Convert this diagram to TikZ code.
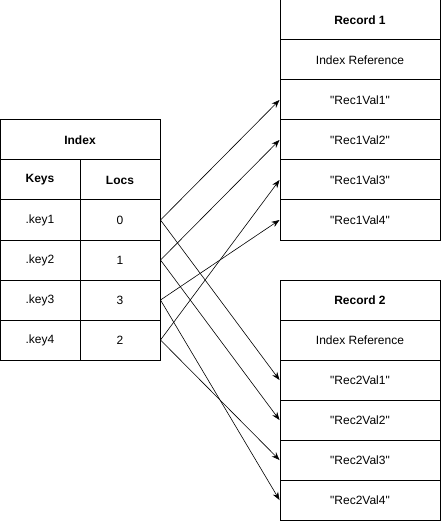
\documentclass[tikz,border=0pt]{standalone}
\usepackage{fontspec}
\setmainfont{Liberation Sans}[Ligatures=TeXOff]
\usepackage{tikz}
\usetikzlibrary{arrows.meta}

\begin{document}
\begin{tikzpicture}[x=1pt, y=-1pt,
  cell/.style={draw, line width=1pt, inner sep=0pt, minimum height=40pt, font=\fontsize{12}{14}\selectfont},
  half/.style={cell, minimum width=80pt},
  full/.style={cell, minimum width=160pt},
  ptr/.style={-{Stealth[length=8pt,width=6pt]}, line width=0.6pt}]
\useasboundingbox (0,0) rectangle (441,521);
% index table
\node[full] (idx) at (80,140) {\textbf{Index}};
\node[half] (hkeys) at (40,180) {\textbf{Keys}};
\node[half] (hlocs) at (120,180) {\textbf{Locs}};
\node[half] (k1) at (40,220) {.key1};
\node[half] (l1) at (120,220) {0};
\node[half] (k2) at (40,260) {.key2};
\node[half] (l2) at (120,260) {1};
\node[half] (k3) at (40,300) {.key3};
\node[half] (l3) at (120,300) {3};
\node[half] (k4) at (40,340) {.key4};
\node[half] (l4) at (120,340) {2};
% record 1
\node[full] (rec1) at (360,20) {\textbf{Record 1}};
\node[full] (ref1) at (360,60) {Index Reference};
\node[full] (r1v1) at (360,100) {"Rec1Val1"};
\node[full] (r1v2) at (360,140) {"Rec1Val2"};
\node[full] (r1v3) at (360,180) {"Rec1Val3"};
\node[full] (r1v4) at (360,220) {"Rec1Val4"};
% record 2
\node[full] (rec2) at (360,300) {\textbf{Record 2}};
\node[full] (ref2) at (360,340) {Index Reference};
\node[full] (r2v1) at (360,380) {"Rec2Val1"};
\node[full] (r2v2) at (360,420) {"Rec2Val2"};
\node[full] (r2v3) at (360,460) {"Rec2Val3"};
\node[full] (r2v4) at (360,500) {"Rec2Val4"};
% pointers
\draw[ptr] (l1.east) -- (r1v1.west);
\draw[ptr] (l2.east) -- (r1v2.west);
\draw[ptr] (l4.east) -- (r1v3.west);
\draw[ptr] (l3.east) -- (r1v4.west);
\draw[ptr] (l1.east) -- (r2v1.west);
\draw[ptr] (l2.east) -- (r2v2.west);
\draw[ptr] (l4.east) -- (r2v3.west);
\draw[ptr] (l3.east) -- (r2v4.west);
\end{tikzpicture}
\end{document}
